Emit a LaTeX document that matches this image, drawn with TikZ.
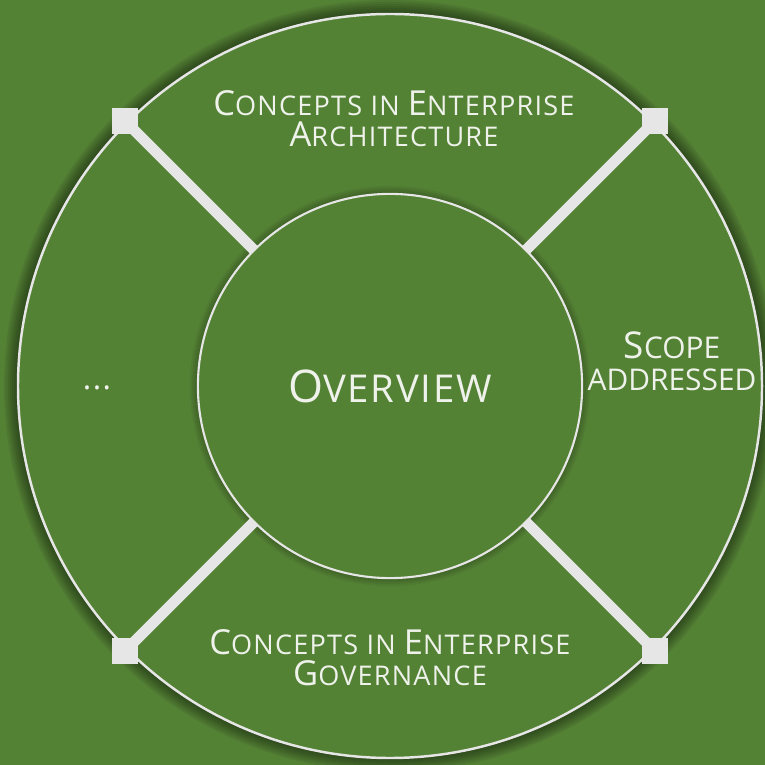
\documentclass[tikz,border=0pt]{standalone}
\usepackage{fontspec}
\setmainfont{Open Sans}
\usetikzlibrary{calc}
\definecolor{leaf}{HTML}{548235}
\definecolor{chalk}{HTML}{EEF2EA}
\definecolor{rim}{HTML}{E6E6E6}
\newcommand\hi[2][9.8]{{\fontsize{#1pt}{12pt}\selectfont #2}}
\newcommand\lo[2][7.7]{{\fontsize{#1pt}{12pt}\selectfont #2}}
\tikzset{
  ringline/.style={draw=rim, line width=0.7pt},
  spoke/.style={draw=rim, line width=3.1pt},
  corner/.style={fill=rim, minimum size=0.26cm, inner sep=0pt},
  hub/.style={circle, draw=rim, line width=0.6pt, fill=leaf, minimum size=3.84cm, inner sep=0pt},
  label/.style={text=chalk, align=center, font=\fontsize{8pt}{8.8pt}\selectfont\addfontfeature{LetterSpace=4.5}},
}
\begin{document}
\begin{tikzpicture}[x=0.01cm, y=-0.01cm]
\fill[leaf] (0,0) rectangle (765,765);
\useasboundingbox (0,0) rectangle (765,765);
\coordinate (c) at (390,386);
% shadow and outer ring
\foreach \k in {14,12,...,2}
  \fill[black, opacity=.07] (c) circle[radius=372+\k];
\fill[leaf] (c) circle[radius=372];
\draw[ringline] (c) circle[radius=372];
\foreach \k in {8,6,4,2}
  \fill[black, opacity=.06] (c) circle[radius=192+\k];
% corners and spokes
\foreach \a [count=\i] in {135,45,-45,-135}
  \coordinate (sq\i) at ($(c)+(\a:375)$);
\foreach \i in {1,...,4}
  \draw[spoke] (c) -- (sq\i);
\foreach \i in {1,...,4}
  \node[corner] (box\i) at (sq\i) {};
\node[hub, label] (ov) at (c) {\hi[12.8]{O}\lo[10.9]{VERVIEW}};
% ring labels
\node[label] (arch) at (394,119) {\hi{C}\lo{ONCEPTS IN }\hi{E}\lo{NTERPRISE}\\\hi{A}\lo{RCHITECTURE}};
\node[label] (gov) at (390,658) {\hi{C}\lo{ONCEPTS IN }\hi{E}\lo{NTERPRISE}\\\hi{G}\lo{OVERNANCE}};
\node[label, font=\fontsize{8pt}{9.1pt}\selectfont] (scope) at (672,361) {\hi[10.5]{S}\lo[8.5]{COPE}\\\lo[8.5]{ADDRESSED}};
\node[label] (more) at (97,388) {\lo[9]{...}};
\end{tikzpicture}
\end{document}
